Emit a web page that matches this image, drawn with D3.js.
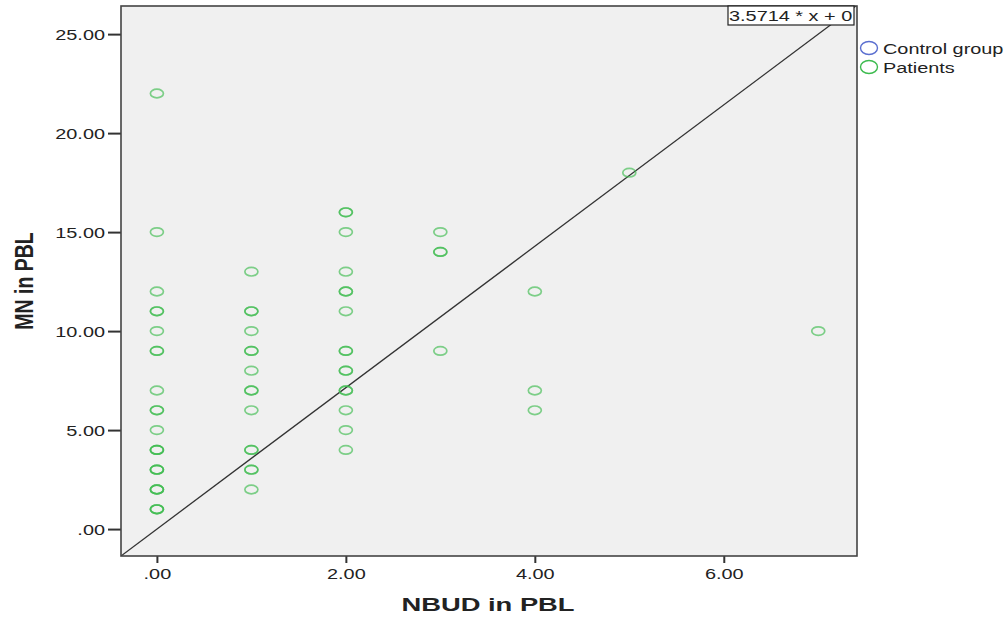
<!DOCTYPE html>
<html lang="en">
<head>
    <meta charset="UTF-8">
    <title>MN vs NBUD in PBL</title>
    <script src="https://d3js.org/d3.v7.min.js"></script>
    <style>
        body { margin: 0; background: #fff; }
        text { font-family: "Liberation Sans", Arial, sans-serif; fill: #222; }
        .tick text { font-size: 14px; }
        .axis-title { font-weight: bold; }
    </style>
</head>
<body>
    <svg width="1007" height="619"></svg>

    <script>
        // Patients: NBUD (x) and MN (y) in PBL, repeated values for overlapping points
        const nbud = [
            0, 0, 0, 0, 0, 0, 0, 0, 0, 0, 0, 0, 0, 0, 0, 0, 0, 0, 0, 0, 0, 0, 0, 0,
            1, 1, 1, 1, 1, 1, 1, 1, 1, 1, 1, 1, 1, 1, 1,
            2, 2, 2, 2, 2, 2, 2, 2, 2, 2, 2, 2, 2, 2, 2, 2,
            3, 3, 3, 3,
            4, 4, 4,
            5,
            7
        ];
        const mn = [
            22, 15, 12, 11, 11, 10, 9, 9, 7, 6, 6, 5, 4, 4, 4, 3, 3, 3, 2, 2, 2, 1, 1, 1,
            13, 11, 11, 10, 9, 9, 8, 7, 7, 6, 4, 4, 3, 3, 2,
            16, 16, 15, 13, 12, 12, 11, 9, 9, 8, 8, 7, 7, 6, 5, 4,
            15, 14, 14, 9,
            12, 7, 6,
            18,
            10
        ];
        const slope = 3.5714;
        const intercept = 0;
        const xTicks = [0, 2, 4, 6];
        const yTicks = [0, 5, 10, 15, 20, 25];
        const legendLabels = ["Control group", "Patients"];
        const legendColors = ["#5b6fd0", "#3dbb4f"];

        const svg = d3.select("svg");
        const pL = 121, pR = 857, pT = 6, pB = 556;
        const stretch = 1.42; // text in the picture is drawn wide

        const x = d3.scaleLinear().domain([-0.38, 7.41]).range([pL, pR]);
        const y = d3.scaleLinear().domain([-1.36, 26.42]).range([pB, pT]);

        const fmt = d => d === 0 ? ".00" : d3.format(".2f")(d);

        // plot background
        svg.append("rect")
            .attr("x", pL).attr("y", pT)
            .attr("width", pR - pL).attr("height", pB - pT)
            .attr("fill", "#f0f0f0");

        // axes
        const xAxis = svg.append("g")
            .attr("transform", `translate(0,${pB})`)
            .call(d3.axisBottom(x).tickValues(xTicks).tickFormat(fmt).tickSize(7).tickSizeOuter(0));
        const yAxis = svg.append("g")
            .attr("transform", `translate(${pL},0)`)
            .call(d3.axisLeft(y).tickValues(yTicks).tickFormat(fmt).tickSize(13).tickSizeOuter(0));
        [xAxis, yAxis].forEach(a => {
            a.select(".domain").remove();
            a.selectAll(".tick line").attr("stroke", "#333").attr("stroke-width", 2);
        });
        xAxis.selectAll(".tick text")
            .attr("y", 0).attr("dy", 0)
            .attr("transform", `translate(0,23) scale(${stretch},1)`);
        yAxis.selectAll(".tick text")
            .attr("x", 0).attr("dy", 0)
            .attr("transform", `translate(-16,5) scale(${stretch},1)`);

        // regression line, clipped to plot area
        svg.append("clipPath").attr("id", "plotclip")
            .append("rect")
            .attr("x", pL).attr("y", pT)
            .attr("width", pR - pL).attr("height", pB - pT);

        const x0 = x.domain()[0];
        const x1 = (y.domain()[1] - intercept) / slope;
        svg.append("line")
            .attr("clip-path", "url(#plotclip)")
            .attr("x1", x(x0)).attr("y1", y(slope * x0 + intercept))
            .attr("x2", x(x1)).attr("y2", y(slope * x1 + intercept))
            .attr("stroke", "#333").attr("stroke-width", 1.3);

        // points
        svg.append("g")
            .selectAll("ellipse")
            .data(nbud.map((v, i) => [v, mn[i]]))
            .join("ellipse")
            .attr("cx", d => x(d[0]))
            .attr("cy", d => y(d[1]))
            .attr("rx", 6.5)
            .attr("ry", 4.3)
            .attr("fill", "none")
            .attr("stroke", legendColors[1])
            .attr("stroke-opacity", 0.65)
            .attr("stroke-width", 1.7);

        // frame
        svg.append("rect")
            .attr("x", pL).attr("y", pT)
            .attr("width", pR - pL).attr("height", pB - pT)
            .attr("fill", "none")
            .attr("stroke", "#444").attr("stroke-width", 1.6);

        // equation label
        const eq = svg.append("g");
        eq.append("rect")
            .attr("x", 728).attr("y", 6)
            .attr("width", 126).attr("height", 19)
            .attr("fill", "#fff").attr("stroke", "#222").attr("stroke-width", 1.2);
        eq.append("text")
            .attr("transform", `translate(729,21) scale(${stretch},1)`)
            .attr("font-size", 14)
            .text(`${slope} * x + ${intercept}`);

        // legend
        const legend = svg.append("g")
            .selectAll("g")
            .data(legendLabels)
            .join("g")
            .attr("transform", (d, i) => `translate(869,${48 + i * 19})`);
        legend.append("ellipse")
            .attr("rx", 8.5).attr("ry", 6.5)
            .attr("fill", "none")
            .attr("stroke", (d, i) => legendColors[i])
            .attr("stroke-width", 1.4);
        legend.append("text")
            .attr("transform", `translate(14,6) scale(${stretch},1)`)
            .attr("font-size", 14)
            .text(d => d);

        // axis titles
        svg.append("text")
            .attr("class", "axis-title")
            .attr("font-size", 18)
            .attr("transform", "translate(488,611) scale(1.52,1)")
            .attr("text-anchor", "middle")
            .text("NBUD in PBL");
        svg.append("text")
            .attr("class", "axis-title")
            .attr("font-size", 19.5)
            .attr("transform", "translate(33,281) rotate(-90) scale(1,1.3)")
            .attr("text-anchor", "middle")
            .text("MN in PBL");
    </script>
</body>
</html>
